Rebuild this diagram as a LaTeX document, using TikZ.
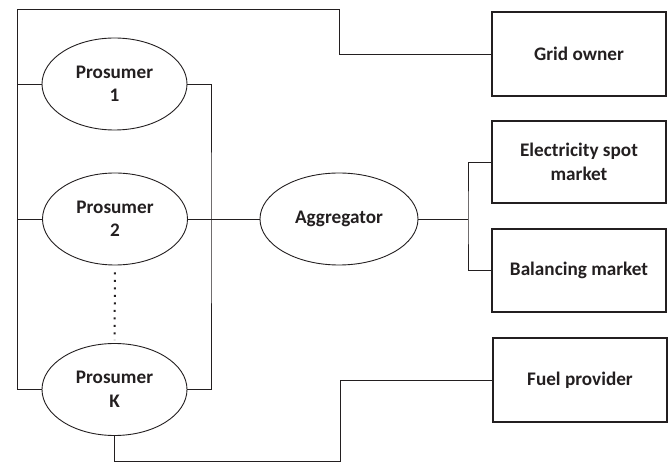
\documentclass[tikz,border=0pt]{standalone}
\usepackage{fontspec}
\setmainfont{Carlito}
\usepackage{tikz}
\usetikzlibrary{shapes.geometric}

\definecolor{ink}{HTML}{231F20}

\tikzset{
  actor/.style={ellipse, draw=ink, line width=0.9pt, minimum width=145pt, minimum height=92pt, inner sep=0pt, align=center},
  party/.style={rectangle, draw=ink, line width=1.2pt, minimum width=174pt, minimum height=84pt, inner sep=0pt, align=center},
  link/.style={draw=ink, line width=0.9pt}
}

\begin{document}
\begin{tikzpicture}[x=1pt, y=-1pt, font=\fontsize{19.2}{23.5}\selectfont\bfseries, text=ink]

  \useasboundingbox (0,0) rectangle (670,462);

  \node[actor] (p1) at (114.5,84) {Prosumer\\1};
  \node[actor] (p2) at (115,219) {Prosumer\\2};
  \node[actor] (pK) at (114.5,389.5) {Prosumer\\K};
  \node[actor, minimum width=158pt] (ag) at (339,219) {Aggregator};

  \node[party] (go) at (579,54) {Grid owner};
  \node[party, minimum height=82pt] (es) at (579,162) {Electricity spot\\market};
  \node[party, minimum height=83pt] (bm) at (579,270.5) {Balancing market};
  \node[party] (fp) at (580,380) {Fuel provider};

  \coordinate (tl) at (17,9);
  \coordinate (tr) at (339,9);
  \coordinate (rbus) at (211,219);
  \coordinate (mbus) at (468,219);
  \coordinate (fb) at (340,461);

  % left bus up to the grid owner
  \draw[link] (go.west) -| (tr) -- (tl) |- (pK.west);
  \draw[link] (p1.west) -- (p1.west -| tl);
  \draw[link] (p2.west) -- (p2.west -| tl);

  % right bus to the aggregator
  \draw[link] (p1.east) -| (rbus) |- (pK.east);
  \draw[link] (p2.east) -- (ag.west);
  \draw[ink, line width=2pt, dash pattern=on 2pt off 5.5pt, shorten <=7pt, shorten >=3pt] (p2.south) -- (pK.north);

  % markets
  \draw[link] (ag.east) -- (mbus);
  \draw[link] (es.west) -| (mbus) |- (bm.west);

  % fuel
  \draw[link] (fp.west) -| (fb) -| (pK.south);

\end{tikzpicture}
\end{document}
